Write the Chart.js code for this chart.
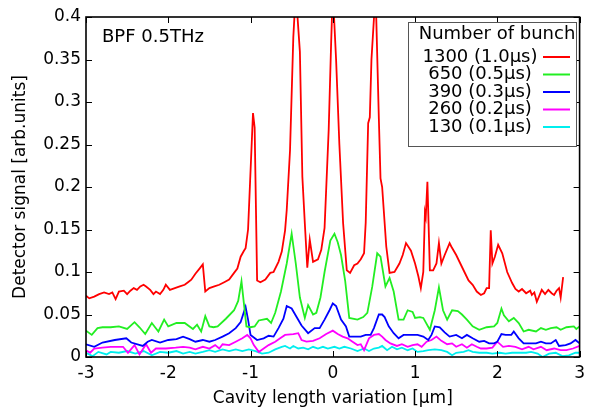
<!DOCTYPE html>
<html>
<head>
<meta charset="utf-8">
<script src="https://cdn.jsdelivr.net/npm/chart.js@4.4.1/dist/chart.umd.min.js"></script>
<style>
    html, body { margin: 0; padding: 0; background: #fff; }
    #wrap { width: 591px; height: 413px; }
</style>
</head>
<body>
<div id="wrap"><canvas id="chart" width="591" height="413"></canvas></div>
<script>
// Tick values for the axes
const xTicks = [-3, -2, -1, 0, 1, 2, 3];
const yTicks = [0, 0.05, 0.1, 0.15, 0.2, 0.25, 0.3, 0.35, 0.4];

const seriesLabels = ['1300 (1.0\u03bcs)', '650 (0.5\u03bcs)', '390 (0.3\u03bcs)', '260 (0.2\u03bcs)', '130 (0.1\u03bcs)'];
const legendTitle = 'Number of bunch';
const noteText = 'BPF 0.5THz';

// [cavity length variation (um), detector signal]
const red = [
    [-3.0, 0.072], [-2.96, 0.069], [-2.9, 0.071], [-2.84, 0.074], [-2.78, 0.076], [-2.72, 0.074],
    [-2.68, 0.076], [-2.64, 0.068], [-2.6, 0.077], [-2.54, 0.078], [-2.5, 0.074], [-2.46, 0.078],
    [-2.42, 0.081], [-2.38, 0.079], [-2.34, 0.083], [-2.3, 0.085], [-2.27, 0.083], [-2.22, 0.079],
    [-2.18, 0.074], [-2.15, 0.077], [-2.1, 0.074], [-2.06, 0.079], [-2.03, 0.085], [-1.98, 0.079],
    [-1.92, 0.081], [-1.86, 0.083], [-1.8, 0.085], [-1.76, 0.088], [-1.72, 0.091], [-1.67, 0.098],
    [-1.62, 0.104], [-1.58, 0.109], [-1.55, 0.077], [-1.5, 0.081], [-1.44, 0.083], [-1.38, 0.085],
    [-1.32, 0.088], [-1.26, 0.091], [-1.2, 0.099], [-1.16, 0.104], [-1.12, 0.118], [-1.08, 0.125],
    [-1.06, 0.128], [-1.03, 0.15], [-0.97, 0.287], [-0.95, 0.27], [-0.92, 0.09], [-0.88, 0.088],
    [-0.82, 0.091], [-0.76, 0.099], [-0.72, 0.1], [-0.66, 0.112], [-0.62, 0.124], [-0.58, 0.149],
    [-0.56, 0.173], [-0.52, 0.243], [-0.48, 0.376], [-0.45, 0.43], [-0.4, 0.359], [-0.37, 0.212],
    [-0.34, 0.157], [-0.31, 0.105], [-0.28, 0.138], [-0.24, 0.112], [-0.18, 0.115], [-0.14, 0.126],
    [-0.1, 0.152], [-0.05, 0.267], [-0.02, 0.37], [0.0, 0.43], [0.04, 0.35], [0.08, 0.25],
    [0.125, 0.158], [0.17, 0.102], [0.21, 0.099], [0.26, 0.108], [0.3, 0.11], [0.34, 0.115],
    [0.38, 0.122], [0.4, 0.158], [0.43, 0.275], [0.45, 0.282], [0.47, 0.35], [0.52, 0.43],
    [0.56, 0.28], [0.58, 0.21], [0.6, 0.2], [0.65, 0.13], [0.69, 0.099], [0.75, 0.1],
    [0.81, 0.11], [0.85, 0.12], [0.89, 0.134], [0.95, 0.125], [1.0, 0.11], [1.04, 0.095],
    [1.07, 0.081], [1.1, 0.1], [1.12, 0.17], [1.13, 0.165], [1.15, 0.206], [1.18, 0.102],
    [1.22, 0.102], [1.26, 0.11], [1.29, 0.134], [1.32, 0.11], [1.36, 0.12], [1.42, 0.134],
    [1.44, 0.13], [1.5, 0.12], [1.55, 0.11], [1.6, 0.1], [1.65, 0.09], [1.7, 0.085],
    [1.75, 0.077], [1.8, 0.073], [1.84, 0.075], [1.87, 0.081], [1.9, 0.081], [1.92, 0.149],
    [1.94, 0.11], [1.97, 0.118], [2.01, 0.132], [2.06, 0.122], [2.12, 0.1], [2.18, 0.087],
    [2.22, 0.08], [2.26, 0.077], [2.3, 0.08], [2.35, 0.075], [2.4, 0.078], [2.42, 0.073],
    [2.45, 0.076], [2.48, 0.065], [2.51, 0.072], [2.54, 0.079], [2.58, 0.074], [2.62, 0.079],
    [2.66, 0.075], [2.69, 0.073], [2.72, 0.078], [2.75, 0.081], [2.77, 0.07], [2.8, 0.094]
];

const green = [
    [-3.0, 0.031], [-2.93, 0.026], [-2.86, 0.034], [-2.8, 0.035], [-2.7, 0.035], [-2.6, 0.036],
    [-2.5, 0.033], [-2.41, 0.041], [-2.35, 0.035], [-2.28, 0.027], [-2.2, 0.04], [-2.12, 0.03],
    [-2.05, 0.044], [-2.0, 0.036], [-1.9, 0.04], [-1.8, 0.04], [-1.7, 0.033], [-1.65, 0.038],
    [-1.6, 0.03], [-1.55, 0.048], [-1.5, 0.036], [-1.45, 0.035], [-1.4, 0.036], [-1.3, 0.045],
    [-1.2, 0.055], [-1.15, 0.066], [-1.11, 0.089], [-1.05, 0.036], [-1.0, 0.035], [-0.95, 0.036],
    [-0.9, 0.043], [-0.8, 0.045], [-0.75, 0.04], [-0.7, 0.052], [-0.63, 0.077], [-0.56, 0.11],
    [-0.5, 0.145], [-0.45, 0.11], [-0.4, 0.07], [-0.34, 0.046], [-0.3, 0.061], [-0.24, 0.05],
    [-0.2, 0.052], [-0.15, 0.07], [-0.1, 0.1], [-0.03, 0.137], [0.02, 0.145], [0.06, 0.135],
    [0.1, 0.12], [0.15, 0.09], [0.2, 0.046], [0.3, 0.044], [0.37, 0.047], [0.42, 0.052],
    [0.48, 0.083], [0.54, 0.122], [0.58, 0.118], [0.64, 0.083], [0.69, 0.093], [0.74, 0.077],
    [0.8, 0.044], [0.86, 0.044], [0.91, 0.055], [0.97, 0.053], [1.0, 0.046], [1.06, 0.047],
    [1.1, 0.046], [1.18, 0.032], [1.24, 0.055], [1.29, 0.082], [1.34, 0.055], [1.39, 0.044],
    [1.45, 0.055], [1.52, 0.054], [1.57, 0.05], [1.63, 0.044], [1.7, 0.036], [1.78, 0.032],
    [1.87, 0.035], [1.96, 0.036], [2.0, 0.04], [2.05, 0.057], [2.08, 0.049], [2.14, 0.042],
    [2.2, 0.046], [2.26, 0.04], [2.32, 0.03], [2.38, 0.032], [2.47, 0.03], [2.53, 0.034],
    [2.59, 0.032], [2.65, 0.034], [2.72, 0.035], [2.77, 0.032], [2.84, 0.035], [2.93, 0.036],
    [2.96, 0.033], [3.0, 0.036]
];

const blue = [
    [-3.0, 0.015], [-2.9, 0.012], [-2.8, 0.017], [-2.65, 0.02], [-2.51, 0.022], [-2.45, 0.017],
    [-2.31, 0.013], [-2.25, 0.018], [-2.2, 0.02], [-2.1, 0.017], [-2.0, 0.02], [-1.9, 0.021],
    [-1.82, 0.024], [-1.74, 0.021], [-1.67, 0.018], [-1.58, 0.02], [-1.5, 0.018], [-1.43, 0.02],
    [-1.34, 0.024], [-1.26, 0.028], [-1.18, 0.034], [-1.12, 0.041], [-1.06, 0.059], [-1.03, 0.044],
    [-1.0, 0.026], [-0.92, 0.02], [-0.84, 0.022], [-0.78, 0.025], [-0.72, 0.024], [-0.66, 0.034],
    [-0.6, 0.045], [-0.56, 0.06], [-0.5, 0.057], [-0.44, 0.047], [-0.38, 0.037], [-0.3, 0.028],
    [-0.22, 0.034], [-0.16, 0.034], [-0.1, 0.044], [-0.04, 0.055], [0.0, 0.063], [0.04, 0.06],
    [0.1, 0.044], [0.16, 0.036], [0.2, 0.024], [0.26, 0.024], [0.34, 0.024], [0.4, 0.026],
    [0.46, 0.026], [0.5, 0.034], [0.56, 0.05], [0.6, 0.05], [0.63, 0.047], [0.68, 0.036],
    [0.74, 0.028], [0.8, 0.022], [0.86, 0.026], [0.94, 0.026], [1.03, 0.026], [1.1, 0.024],
    [1.16, 0.02], [1.2, 0.026], [1.24, 0.036], [1.3, 0.035], [1.36, 0.029], [1.42, 0.024],
    [1.5, 0.026], [1.57, 0.022], [1.63, 0.026], [1.7, 0.022], [1.78, 0.018], [1.84, 0.019],
    [1.9, 0.016], [1.96, 0.016], [2.0, 0.018], [2.05, 0.027], [2.1, 0.026], [2.17, 0.026],
    [2.2, 0.03], [2.26, 0.022], [2.32, 0.016], [2.38, 0.016], [2.47, 0.016], [2.53, 0.018],
    [2.59, 0.016], [2.65, 0.016], [2.71, 0.02], [2.75, 0.013], [2.83, 0.014], [2.89, 0.016],
    [2.95, 0.02], [3.0, 0.016]
];

const magenta = [
    [-3.0, 0.008], [-2.95, 0.005], [-2.9, 0.01], [-2.8, 0.011], [-2.7, 0.012], [-2.6, 0.012],
    [-2.55, 0.012], [-2.49, 0.005], [-2.41, 0.014], [-2.35, 0.003], [-2.27, 0.015], [-2.21, 0.005],
    [-2.15, 0.01], [-2.03, 0.01], [-1.91, 0.011], [-1.82, 0.012], [-1.74, 0.011], [-1.67, 0.009],
    [-1.58, 0.012], [-1.5, 0.01], [-1.43, 0.014], [-1.38, 0.01], [-1.34, 0.015], [-1.26, 0.014],
    [-1.18, 0.018], [-1.1, 0.022], [-1.04, 0.026], [-1.0, 0.022], [-0.96, 0.014], [-0.9, 0.006],
    [-0.84, 0.01], [-0.78, 0.014], [-0.7, 0.018], [-0.64, 0.022], [-0.58, 0.026], [-0.48, 0.027],
    [-0.42, 0.028], [-0.38, 0.02], [-0.32, 0.018], [-0.24, 0.019], [-0.16, 0.022], [-0.08, 0.027],
    [0.0, 0.031], [0.06, 0.027], [0.12, 0.024], [0.18, 0.022], [0.24, 0.018], [0.3, 0.014],
    [0.34, 0.015], [0.38, 0.008], [0.44, 0.022], [0.5, 0.026], [0.56, 0.027], [0.6, 0.024],
    [0.64, 0.02], [0.7, 0.016], [0.78, 0.013], [0.84, 0.015], [0.91, 0.012], [0.97, 0.014],
    [1.03, 0.015], [1.08, 0.012], [1.14, 0.018], [1.2, 0.02], [1.26, 0.024], [1.32, 0.019],
    [1.39, 0.015], [1.45, 0.016], [1.5, 0.012], [1.57, 0.015], [1.63, 0.011], [1.69, 0.015],
    [1.75, 0.012], [1.8, 0.01], [1.87, 0.01], [1.94, 0.011], [2.0, 0.018], [2.07, 0.012],
    [2.14, 0.013], [2.22, 0.012], [2.3, 0.009], [2.38, 0.012], [2.44, 0.009], [2.53, 0.012],
    [2.6, 0.008], [2.69, 0.01], [2.77, 0.008], [2.84, 0.008], [2.92, 0.01], [3.0, 0.013]
];

const cyan = [
    [-3.0, 0.005], [-2.92, 0.001], [-2.85, 0.006], [-2.75, 0.003], [-2.7, 0.006], [-2.6, 0.005],
    [-2.5, 0.007], [-2.4, 0.004], [-2.3, 0.007], [-2.2, 0.002], [-2.1, 0.006], [-2.0, 0.005],
    [-1.9, 0.007], [-1.82, 0.004], [-1.74, 0.006], [-1.67, 0.004], [-1.58, 0.006], [-1.5, 0.008],
    [-1.43, 0.006], [-1.34, 0.009], [-1.26, 0.007], [-1.18, 0.009], [-1.1, 0.007], [-1.02, 0.009],
    [-0.94, 0.007], [-0.86, 0.004], [-0.78, 0.005], [-0.7, 0.009], [-0.62, 0.012], [-0.58, 0.013],
    [-0.52, 0.01], [-0.48, 0.013], [-0.42, 0.01], [-0.36, 0.011], [-0.3, 0.009], [-0.24, 0.012],
    [-0.18, 0.01], [-0.12, 0.012], [-0.06, 0.01], [0.02, 0.012], [0.08, 0.01], [0.14, 0.012],
    [0.22, 0.01], [0.3, 0.007], [0.38, 0.01], [0.44, 0.007], [0.5, 0.01], [0.56, 0.011],
    [0.6, 0.013], [0.66, 0.008], [0.72, 0.012], [0.78, 0.009], [0.84, 0.011], [0.91, 0.008],
    [0.97, 0.01], [1.03, 0.006], [1.1, 0.007], [1.16, 0.008], [1.24, 0.009], [1.32, 0.008],
    [1.39, 0.006], [1.45, 0.002], [1.5, 0.005], [1.59, 0.006], [1.65, 0.008], [1.7, 0.006],
    [1.78, 0.005], [1.87, 0.005], [1.94, 0.004], [2.03, 0.005], [2.1, 0.004], [2.18, 0.005],
    [2.26, 0.005], [2.35, 0.005], [2.41, 0.006], [2.49, 0.004], [2.55, 0.0], [2.63, 0.004],
    [2.71, 0.005], [2.79, 0.001], [2.87, 0.002], [2.95, 0.005], [3.0, 0.005]
];

const seriesData = [red, green, blue, magenta, cyan];
const seriesColors = ['#ff0000', '#22ee22', '#0000ff', '#ff00ff', '#00eeee'];

const FONT = "'DejaVu Sans', 'Liberation Sans', sans-serif";

const toPoints = (arr) => arr.map(p => ({ x: p[0], y: p[1] }));

// Frame with inward ticks on all four sides, legend box and note
const framePlugin = {
    id: 'frame',
    afterDraw(chart) {
        const { ctx, chartArea: a, scales } = chart;
        const tickLen = 6;
        ctx.save();
        ctx.strokeStyle = '#000';
        ctx.lineWidth = 1;
        ctx.beginPath();
        xTicks.forEach(v => {
            const px = Math.round(scales.x.getPixelForValue(v)) + 0.5;
            ctx.moveTo(px, a.bottom); ctx.lineTo(px, a.bottom - tickLen);
            ctx.moveTo(px, a.top); ctx.lineTo(px, a.top + tickLen);
        });
        yTicks.forEach(v => {
            const py = Math.round(scales.y.getPixelForValue(v)) + 0.5;
            ctx.moveTo(a.left, py); ctx.lineTo(a.left + tickLen, py);
            ctx.moveTo(a.right, py); ctx.lineTo(a.right - tickLen, py);
        });
        ctx.stroke();
        ctx.lineWidth = 1.6;
        ctx.strokeRect(a.left, a.top, a.right - a.left, a.bottom - a.top);

        // note
        ctx.fillStyle = '#000';
        ctx.font = '18px ' + FONT;
        ctx.textAlign = 'left';
        ctx.textBaseline = 'middle';
        ctx.fillText(noteText, a.left + 16, a.top + 20);

        // legend
        const bx = 408, by = 22, bw = 168, bh = 124;
        ctx.fillStyle = '#fff';
        ctx.fillRect(bx, by, bw, bh);
        ctx.strokeStyle = '#555';
        ctx.lineWidth = 1;
        ctx.strokeRect(bx + 0.5, by + 0.5, bw, bh);
        ctx.fillStyle = '#000';
        ctx.textAlign = 'center';
        ctx.fillText(legendTitle, bx + bw / 2 + 5, by + 12);
        chart.data.datasets.forEach((ds, i) => {
            const y = by + 35 + i * 17.5;
            ctx.fillStyle = '#000';
            ctx.fillText(ds.label, 480, y);
            ctx.strokeStyle = ds.borderColor;
            ctx.lineWidth = 2;
            ctx.beginPath();
            ctx.moveTo(543, y);
            ctx.lineTo(570, y);
            ctx.stroke();
        });
        ctx.restore();
    }
};

const ctx = document.getElementById('chart').getContext('2d');

new Chart(ctx, {
    type: 'line',
    data: {
        datasets: seriesData.map((d, i) => ({
            label: seriesLabels[i],
            data: toPoints(d),
            borderColor: seriesColors[i],
            borderWidth: 1.8,
            pointRadius: 0,
            tension: 0,
            fill: false
        }))
    },
    options: {
        responsive: false,
        animation: false,
        layout: { padding: { top: 17, right: 6, left: 0, bottom: 0 } },
        plugins: {
            legend: { display: false },
            tooltip: { enabled: false }
        },
        scales: {
            x: {
                type: 'linear',
                min: -3,
                max: 3,
                afterBuildTicks: (s) => { s.ticks = xTicks.map(v => ({ value: v })); },
                afterFit: (s) => { s.height = 56; },
                grid: { display: false, drawTicks: false },
                border: { display: false },
                ticks: {
                    color: '#000',
                    padding: 6,
                    maxRotation: 0,
                    font: { family: FONT, size: 17 },
                    callback: (v) => String(v)
                },
                title: {
                    display: true,
                    text: 'Cavity length variation [\u03bcm]',
                    color: '#000',
                    font: { family: FONT, size: 17 },
                    padding: { top: 0, bottom: 4 }
                }
            },
            y: {
                type: 'linear',
                min: 0,
                max: 0.4,
                afterBuildTicks: (s) => { s.ticks = yTicks.map(v => ({ value: v })); },
                afterFit: (s) => { s.width = 86; },
                grid: { display: false, drawTicks: false },
                border: { display: false },
                ticks: {
                    color: '#000',
                    padding: 5,
                    font: { family: FONT, size: 17 },
                    callback: (v) => String(+v.toFixed(2))
                },
                title: {
                    display: true,
                    text: 'Detector signal [arb.units]',
                    color: '#000',
                    font: { family: FONT, size: 17 },
                    padding: { top: 10, bottom: 0 }
                }
            }
        }
    },
    plugins: [framePlugin]
});
</script>
</body>
</html>
